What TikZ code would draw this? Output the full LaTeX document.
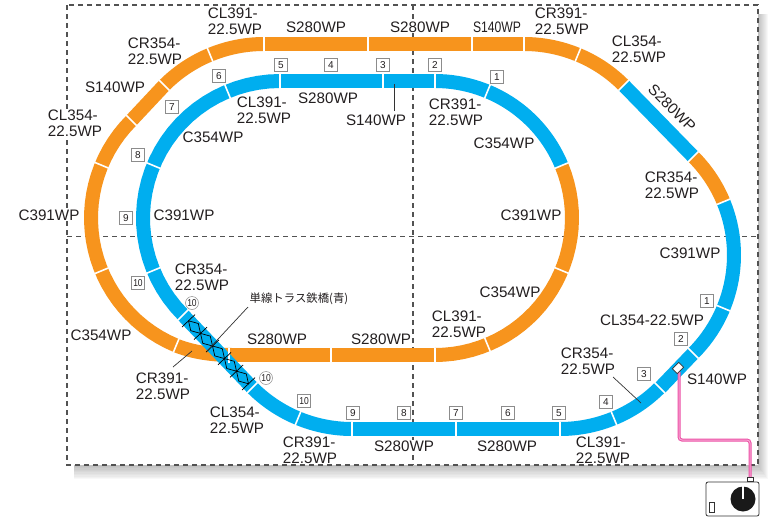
\documentclass[tikz,border=0pt]{standalone}
\usepackage{fontspec}
\setmainfont{Liberation Sans}
\newfontfamily\cjkjp{Noto Sans CJK JP}
\definecolor{tblue}{HTML}{00AEEF}
\definecolor{torange}{HTML}{F7941D}
\definecolor{tink}{HTML}{231F20}
\definecolor{fpink}{HTML}{EC4FA5}
\definecolor{fpale}{HTML}{F8A8D4}
\tikzset{
  trackb/.style={tblue,line width=14pt,line cap=butt,line join=round},
  tracko/.style={torange,line width=14pt,line cap=butt,line join=round},
  tickw/.style={white,line width=1.6pt,line cap=butt},
  frameline/.style={draw=black!68,line width=1.2pt,dash pattern=on 5pt off 4pt},
  lab/.style={inner sep=0pt,align=left,text=tink,font=\fontsize{15.2}{16}\selectfont},
  halo/.style={fill=white,inner sep=1pt},
  numbox/.style={draw=black!45,fill=white,line width=.8pt,inner sep=0pt,minimum width=12.5pt,minimum height=12.5pt,text=tink,font=\fontsize{10}{10}\selectfont},
  numwide/.style={numbox,minimum width=13.5pt},
  numcirc/.style={circle,draw=black!45,fill=white,line width=.5pt,inner sep=0pt,minimum size=13pt,text=tink,font=\fontsize{10}{10}\selectfont},
  leader/.style={draw=black!80,line width=.7pt},
}
\newcommand{\tarc}[6]{\draw[#1] plot[domain=#5:#6,samples=30] ({#2+#4*cos(\x)},{#3+#4*sin(\x)});}
\newcommand{\ttick}[4]{\draw[tickw] ({#1+(#3-7.5)*cos(#4)},{#2+(#3-7.5)*sin(#4)}) -- ({#1+(#3+7.5)*cos(#4)},{#2+(#3+7.5)*sin(#4)});}
\newcommand{\vtick}[2]{\draw[tickw] (#1,#2-7.5) -- (#1,#2+7.5);}
\begin{document}
\begin{tikzpicture}[x=1pt,y=-1pt]
\useasboundingbox (0,0) rectangle (772,517);
% shadow
\foreach \i in {1,...,11}{\fill[black,opacity=.028] (74,14) rectangle ({757+\i},{464+1.4*\i});}
\fill[white] (67,5) rectangle (758,465);
% frame and quarter lines
\draw[frameline] (67,5) rectangle (758,465);
\draw[frameline] (413,5) -- (413,465);
\draw[frameline] (67,236.5) -- (758,236.5);
% outer loop, orange part
\draw[tracko] (176,345.5) .. controls (190,351) and (208,355) .. (232,355);
\draw[tracko] (229,355) -- (435,355);
\tarc{tracko}{229}{218}{138}{225}{112.5}
\draw[tracko] (164.3,85.3) -- (131.4,120.4);
\tarc{tracko}{264}{185}{141}{270}{225}
\draw[tracko] (264,44) -- (524,44);
\tarc{tracko}{524}{185}{141}{-90}{-45}
\draw[trackb] (623.7,85.3) -- (693.3,156.7);
\tarc{tracko}{595}{255}{139}{-45}{-22.5}
\tarc{trackb}{595}{255}{139}{-22.5}{45}
\draw[trackb] (693.3,353.3) -- (660,388);
\tarc{trackb}{560}{288}{141}{45}{90}
\draw[trackb] (560,429) -- (352,429);
\tarc{trackb}{352}{288}{141}{90}{135}
% inner loop
\tarc{trackb}{435}{218}{137}{-90}{-22.5}
\tarc{tracko}{435}{218}{137}{-22.5}{90}
\draw[trackb] (280,81) -- (435,81);
\tarc{trackb}{280}{218}{137}{270}{135}
\draw[trackb] (183,315) -- (252.3,387.7);
% ticks
\ttick{229}{218}{138}{225}\ttick{229}{218}{138}{202.5}\ttick{229}{218}{138}{157.5}\ttick{229}{218}{138}{112.5}
\ttick{264}{185}{141}{247.5}\ttick{264}{185}{141}{225}
\vtick{264}{44}\vtick{368}{44}\vtick{472}{44}\vtick{524}{44}
\ttick{524}{185}{141}{-67.5}\ttick{524}{185}{141}{-45}
\ttick{595}{255}{139}{-45}\ttick{595}{255}{139}{-22.5}\ttick{595}{255}{139}{22.5}\ttick{595}{255}{139}{45}
\ttick{560}{288}{141}{45}\ttick{560}{288}{141}{67.5}
\vtick{560}{429}\vtick{456}{429}\vtick{352}{429}
\ttick{352}{288}{141}{112.5}\ttick{352}{288}{141}{135}
\ttick{435}{218}{137}{-67.5}\ttick{435}{218}{137}{-22.5}\ttick{435}{218}{137}{22.5}\ttick{435}{218}{137}{67.5}
\vtick{280}{81}\vtick{383}{81}\vtick{435}{81}
\ttick{280}{218}{137}{247.5}\ttick{280}{218}{137}{202.5}\ttick{280}{218}{137}{157.5}\ttick{280}{218}{137}{135}
\vtick{229}{355}\vtick{331}{355}\vtick{435}{355}
% truss
\begin{scope}[shift={(183,315)},rotate=-46.4]
\foreach \k in {0,...,5}{\draw[black,line width=.7pt] ({8+17.4*\k},-9) -- ({8+17.4*\k},9);}
\foreach \k in {0,...,4}{\draw[black,line width=.7pt] ({8+17.4*\k},0) -- ({16.7+17.4*\k},5.2) -- ({25.4+17.4*\k},0) -- ({16.7+17.4*\k},-5.2) -- cycle;}
\end{scope}
% feeder
\coordinate (fa) at (679,372);
\coordinate (fb) at (679,440);
\coordinate (fc) at (750,440);
\coordinate (fd) at (750,480);
\draw[fpink,line width=3pt,rounded corners=3pt] (fa) -- (fb) -- (fc) -- (fd);
\draw[fpale,line width=1pt,rounded corners=3pt] (fa) -- (fb) -- (fc) -- (fd);
\node[draw=black!80,fill=white,line width=.7pt,minimum width=9pt,minimum height=7pt,inner sep=0pt,rotate=45] (feed) at (678,368) {};
% controller
\node[draw=black!80,fill=white,line width=.8pt,rounded corners=2pt,minimum width=53pt,minimum height=34pt,inner sep=0pt] (ctrl) at (732.5,499) {};
\node[draw=black!80,fill=white,line width=.7pt,minimum width=6pt,minimum height=4.5pt,inner sep=0pt] (plug) at (750,479.5) {};
\fill[black!90] (743,499) circle (12.5);
\fill[white] (741.8,486) rectangle (744.2,499);
\node[draw=black!80,fill=white,line width=.7pt,minimum width=5pt,minimum height=10pt,inner sep=0pt] (sw) at (712,507) {};
% leaders
\coordinate (la) at (394,84);\coordinate (lb) at (394,111);
\draw[leader] (la) -- (lb);
\coordinate (lc) at (248,307);\coordinate (ld) at (207,351);
\draw[leader] (lc) -- (ld);
\coordinate (le) at (173,367);\coordinate (lf) at (192,351);
\draw[leader] (le) -- (lf);
\coordinate (lg) at (613,377);\coordinate (lh) at (641,403);
\draw[leader] (lg) -- (lh);
% labels
\node[lab,halo] (t1) at (235,21) {CL391-\\22.5WP};
\node[lab] (t2) at (316,27) {S280WP};
\node[lab,halo] (t3) at (420,27) {S280WP};
\node[lab] (t4) at (497,27) {\scalebox{.8}[1]{S140WP}};
\node[lab,halo] (t5) at (562,21) {CR391-\\22.5WP};
\node[lab] (t6) at (639,49.5) {CL354-\\22.5WP};
\node[lab,rotate=-45] (t7) at (672,108) {S280WP};
\node[lab] (t8) at (672,185.5) {CR354-\\22.5WP};
\node[lab] (t9) at (690,253) {C391WP};
\node[lab] (t10) at (652,320) {CL354-22.5WP};
\node[lab] (t11) at (588,361) {CR354-\\22.5WP};
\node[lab] (t12) at (717,379) {S140WP};
\node[lab] (t13) at (603,450) {CL391-\\22.5WP};
\node[lab] (t14) at (507,446) {S280WP};
\node[lab,halo] (t15) at (404,446) {S280WP};
\node[lab] (t16) at (310,450) {CR391-\\22.5WP};
\node[lab] (t17) at (237,420) {CL354-\\22.5WP};
\node[lab] (t18) at (163,386.5) {CR391-\\22.5WP};
\node[lab] (t19) at (101,335) {C354WP};
\node[lab] (t20) at (277,339) {S280WP};
\node[lab] (t21) at (381,339) {S280WP};
\node[lab] (t22) at (459,324.5) {CL391-\\22.5WP};
\node[lab] (t23) at (510,292) {C354WP};
\node[lab] (t24) at (531,215) {C391WP};
\node[lab] (t25) at (504,143) {C354WP};
\node[lab] (t26) at (456,112.5) {CR391-\\22.5WP};
\node[lab] (t27) at (376,120) {S140WP};
\node[lab] (t28) at (328,98) {S280WP};
\node[lab] (t29) at (264,110) {CL391-\\22.5WP};
\node[lab] (t30) at (213,137) {C354WP};
\node[lab] (t31) at (184,215) {C391WP};
\node[lab,halo] (t32) at (49,215) {C391WP};
\node[lab] (t33) at (202,277) {CR354-\\22.5WP};
\node[lab,halo] (t34) at (75,123) {CL354-\\22.5WP};
\node[lab] (t35) at (115,87) {S140WP};
\node[lab] (t36) at (155,51) {CR354-\\22.5WP};
\node[lab,font=\cjkjp\fontsize{11.4}{12}\selectfont] (t37) at (299,299) {単線トラス鉄橋(青)};
% numbered boxes, upper track
\node[numbox] (a1) at (497,77) {1};
\node[numbox] (a2) at (435,65) {2};
\node[numbox] (a3) at (383,65) {3};
\node[numbox] (a4) at (331,65) {4};
\node[numbox] (a5) at (281,65) {5};
\node[numbox] (a6) at (219,76) {6};
\node[numbox] (a7) at (172,107) {7};
\node[numbox] (a8) at (138,155) {8};
\node[numbox] (a9) at (126,218) {9};
\node[numwide] (a10) at (138,283) {\scalebox{.85}[1]{10}};
\node[numcirc] (a11) at (192,303) {\scalebox{.85}[1]{10}};
% numbered boxes, lower track
\node[numcirc] (b11) at (266,378) {\scalebox{.85}[1]{10}};
\node[numwide] (b10) at (304,401) {\scalebox{.85}[1]{10}};
\node[numbox] (b9) at (353,413) {9};
\node[numbox] (b8) at (404,413) {8};
\node[numbox] (b7) at (456,413) {7};
\node[numbox] (b6) at (508,413) {6};
\node[numbox] (b5) at (559,413) {5};
\node[numbox] (b4) at (606,402) {4};
\node[numbox] (b3) at (644,374) {3};
\node[numbox] (b2) at (681,339) {2};
\node[numbox] (b1) at (707,301) {1};
\end{tikzpicture}
\end{document}
